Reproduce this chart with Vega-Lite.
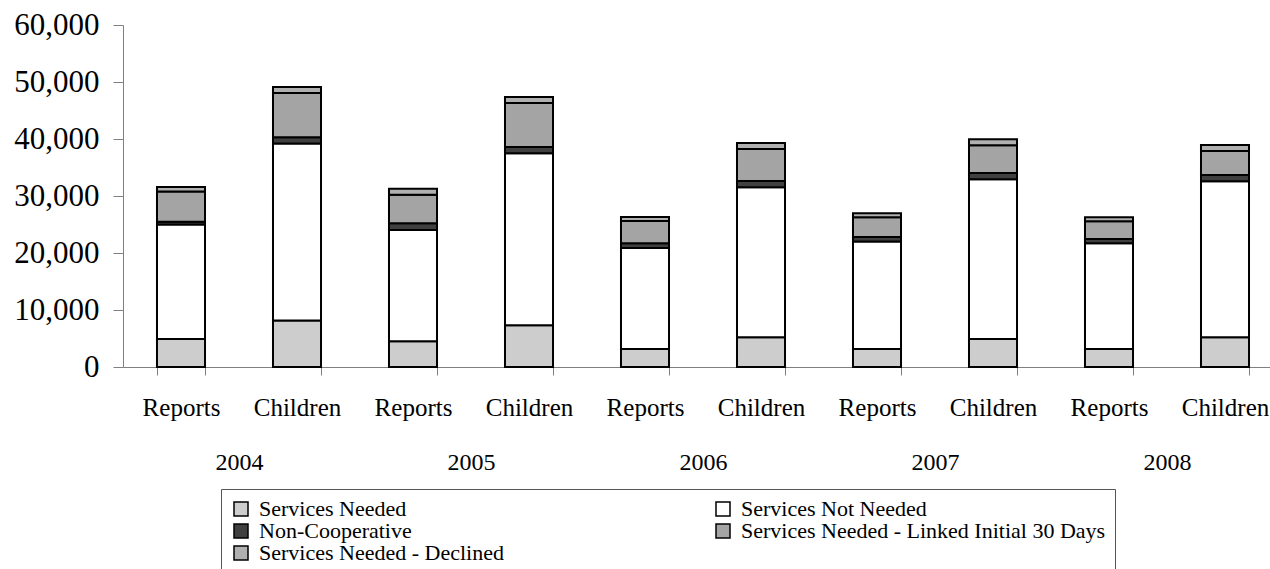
{
  "$schema": "https://vega.github.io/schema/vega-lite/v6.json",
  "autosize": {"type": "none"},
  "padding": {"left": 123, "top": 25, "right": 0, "bottom": 202},
  "width": 1147,
  "height": 342,
  "config": {
    "font": "Liberation Serif",
    "view": {"stroke": null},
    "axis": {"grid": false, "domainColor": "#808080", "tickColor": "#808080", "labelColor": "#000", "labelFont": "Liberation Serif"}
  },
  "data": {
    "values": [
      {"year": "2004", "bar": "2004 Reports", "rank": 1, "status": "Services Needed", "value": 4900},
      {"year": "2004", "bar": "2004 Reports", "rank": 2, "status": "Services Not Needed", "value": 20100},
      {"year": "2004", "bar": "2004 Reports", "rank": 3, "status": "Non-Cooperative", "value": 500},
      {"year": "2004", "bar": "2004 Reports", "rank": 4, "status": "Services Needed - Linked Initial 30 Days", "value": 5300},
      {"year": "2004", "bar": "2004 Reports", "rank": 5, "status": "Services Needed - Declined", "value": 760},
      {"year": "2004", "bar": "2004 Children", "rank": 1, "status": "Services Needed", "value": 8140},
      {"year": "2004", "bar": "2004 Children", "rank": 2, "status": "Services Not Needed", "value": 31050},
      {"year": "2004", "bar": "2004 Children", "rank": 3, "status": "Non-Cooperative", "value": 1110},
      {"year": "2004", "bar": "2004 Children", "rank": 4, "status": "Services Needed - Linked Initial 30 Days", "value": 7770},
      {"year": "2004", "bar": "2004 Children", "rank": 5, "status": "Services Needed - Declined", "value": 1050},
      {"year": "2005", "bar": "2005 Reports", "rank": 1, "status": "Services Needed", "value": 4510},
      {"year": "2005", "bar": "2005 Reports", "rank": 2, "status": "Services Not Needed", "value": 19530},
      {"year": "2005", "bar": "2005 Reports", "rank": 3, "status": "Non-Cooperative", "value": 1170},
      {"year": "2005", "bar": "2005 Reports", "rank": 4, "status": "Services Needed - Linked Initial 30 Days", "value": 5030},
      {"year": "2005", "bar": "2005 Reports", "rank": 5, "status": "Services Needed - Declined", "value": 1050},
      {"year": "2005", "bar": "2005 Children", "rank": 1, "status": "Services Needed", "value": 7320},
      {"year": "2005", "bar": "2005 Children", "rank": 2, "status": "Services Not Needed", "value": 30170},
      {"year": "2005", "bar": "2005 Children", "rank": 3, "status": "Non-Cooperative", "value": 1110},
      {"year": "2005", "bar": "2005 Children", "rank": 4, "status": "Services Needed - Linked Initial 30 Days", "value": 7720},
      {"year": "2005", "bar": "2005 Children", "rank": 5, "status": "Services Needed - Declined", "value": 1050},
      {"year": "2006", "bar": "2006 Reports", "rank": 1, "status": "Services Needed", "value": 3160},
      {"year": "2006", "bar": "2006 Reports", "rank": 2, "status": "Services Not Needed", "value": 17720},
      {"year": "2006", "bar": "2006 Reports", "rank": 3, "status": "Non-Cooperative", "value": 820},
      {"year": "2006", "bar": "2006 Reports", "rank": 4, "status": "Services Needed - Linked Initial 30 Days", "value": 3910},
      {"year": "2006", "bar": "2006 Reports", "rank": 5, "status": "Services Needed - Declined", "value": 710},
      {"year": "2006", "bar": "2006 Children", "rank": 1, "status": "Services Needed", "value": 5210},
      {"year": "2006", "bar": "2006 Children", "rank": 2, "status": "Services Not Needed", "value": 26320},
      {"year": "2006", "bar": "2006 Children", "rank": 3, "status": "Non-Cooperative", "value": 1100},
      {"year": "2006", "bar": "2006 Children", "rank": 4, "status": "Services Needed - Linked Initial 30 Days", "value": 5620},
      {"year": "2006", "bar": "2006 Children", "rank": 5, "status": "Services Needed - Declined", "value": 1050},
      {"year": "2007", "bar": "2007 Reports", "rank": 1, "status": "Services Needed", "value": 3160},
      {"year": "2007", "bar": "2007 Reports", "rank": 2, "status": "Services Not Needed", "value": 18840},
      {"year": "2007", "bar": "2007 Reports", "rank": 3, "status": "Non-Cooperative", "value": 810},
      {"year": "2007", "bar": "2007 Reports", "rank": 4, "status": "Services Needed - Linked Initial 30 Days", "value": 3450},
      {"year": "2007", "bar": "2007 Reports", "rank": 5, "status": "Services Needed - Declined", "value": 700},
      {"year": "2007", "bar": "2007 Children", "rank": 1, "status": "Services Needed", "value": 4910},
      {"year": "2007", "bar": "2007 Children", "rank": 2, "status": "Services Not Needed", "value": 28020},
      {"year": "2007", "bar": "2007 Children", "rank": 3, "status": "Non-Cooperative", "value": 1110},
      {"year": "2007", "bar": "2007 Children", "rank": 4, "status": "Services Needed - Linked Initial 30 Days", "value": 4850},
      {"year": "2007", "bar": "2007 Children", "rank": 5, "status": "Services Needed - Declined", "value": 1060},
      {"year": "2008", "bar": "2008 Reports", "rank": 1, "status": "Services Needed", "value": 3160},
      {"year": "2008", "bar": "2008 Reports", "rank": 2, "status": "Services Not Needed", "value": 18540},
      {"year": "2008", "bar": "2008 Reports", "rank": 3, "status": "Non-Cooperative", "value": 760},
      {"year": "2008", "bar": "2008 Reports", "rank": 4, "status": "Services Needed - Linked Initial 30 Days", "value": 3100},
      {"year": "2008", "bar": "2008 Reports", "rank": 5, "status": "Services Needed - Declined", "value": 700},
      {"year": "2008", "bar": "2008 Children", "rank": 1, "status": "Services Needed", "value": 5210},
      {"year": "2008", "bar": "2008 Children", "rank": 2, "status": "Services Not Needed", "value": 27370},
      {"year": "2008", "bar": "2008 Children", "rank": 3, "status": "Non-Cooperative", "value": 1110},
      {"year": "2008", "bar": "2008 Children", "rank": 4, "status": "Services Needed - Linked Initial 30 Days", "value": 4210},
      {"year": "2008", "bar": "2008 Children", "rank": 5, "status": "Services Needed - Declined", "value": 1050}
    ]
  },
  "layer": [
    {
      "mark": {"type": "bar", "stroke": "#000", "strokeWidth": 2},
      "encoding": {
        "x": {
          "field": "bar", "type": "nominal", "sort": null,
          "scale": {"range": [0, 1160], "paddingInner": 0.586, "paddingOuter": 0.293},
          "axis": {"title": null, "labelAngle": 0, "labelExpr": "split(datum.label, ' ')[1]", "tickBand": "extent", "tickSize": 8, "labelFontSize": 25, "labelPadding": 20}
        },
        "y": {
          "aggregate": "sum", "field": "value", "type": "quantitative", "stack": "zero",
          "scale": {"domain": [0, 60000]},
          "axis": {"title": null, "values": [0, 10000, 20000, 30000, 40000, 50000, 60000], "format": ",d", "tickSize": 10, "labelPadding": 14, "labelFontSize": 31}
        },
        "order": {"field": "rank", "type": "quantitative", "sort": "ascending"},
        "color": {
          "field": "status", "type": "nominal",
          "scale": {
            "domain": ["Services Needed", "Services Not Needed", "Non-Cooperative", "Services Needed - Linked Initial 30 Days", "Services Needed - Declined"],
            "range": ["#cdcdcd", "#ffffff", "#404040", "#a4a4a4", "#b0b0b0"]
          },
          "legend": {
            "title": null, "orient": "none", "legendX": 98, "legendY": 464, "columns": 2, "direction": "horizontal",
            "symbolType": "square", "symbolSize": 196, "symbolStrokeColor": "#000", "symbolStrokeWidth": 1.5, "symbolOpacity": 1,
            "labelFont": "Liberation Serif", "labelFontSize": 22, "labelColor": "#000", "labelOffset": 7, "labelLimit": 0,
            "rowPadding": 0, "columnPadding": 208, "padding": 9,
            "strokeColor": "#555"
          }
        }
      }
    },
    {
      "mark": {"type": "text", "text": ""},
      "encoding": {
        "x": {
          "field": "year", "type": "nominal", "sort": null,
          "scale": {"range": [0, 1160]},
          "axis": {"title": null, "orient": "bottom", "labelAngle": 0, "domain": false, "ticks": false, "tickSize": 0, "labelPadding": 83, "labelFontSize": 24}
        }
      }
    }
  ],
  "resolve": {"scale": {"x": "independent"}, "axis": {"x": "independent"}}
}
